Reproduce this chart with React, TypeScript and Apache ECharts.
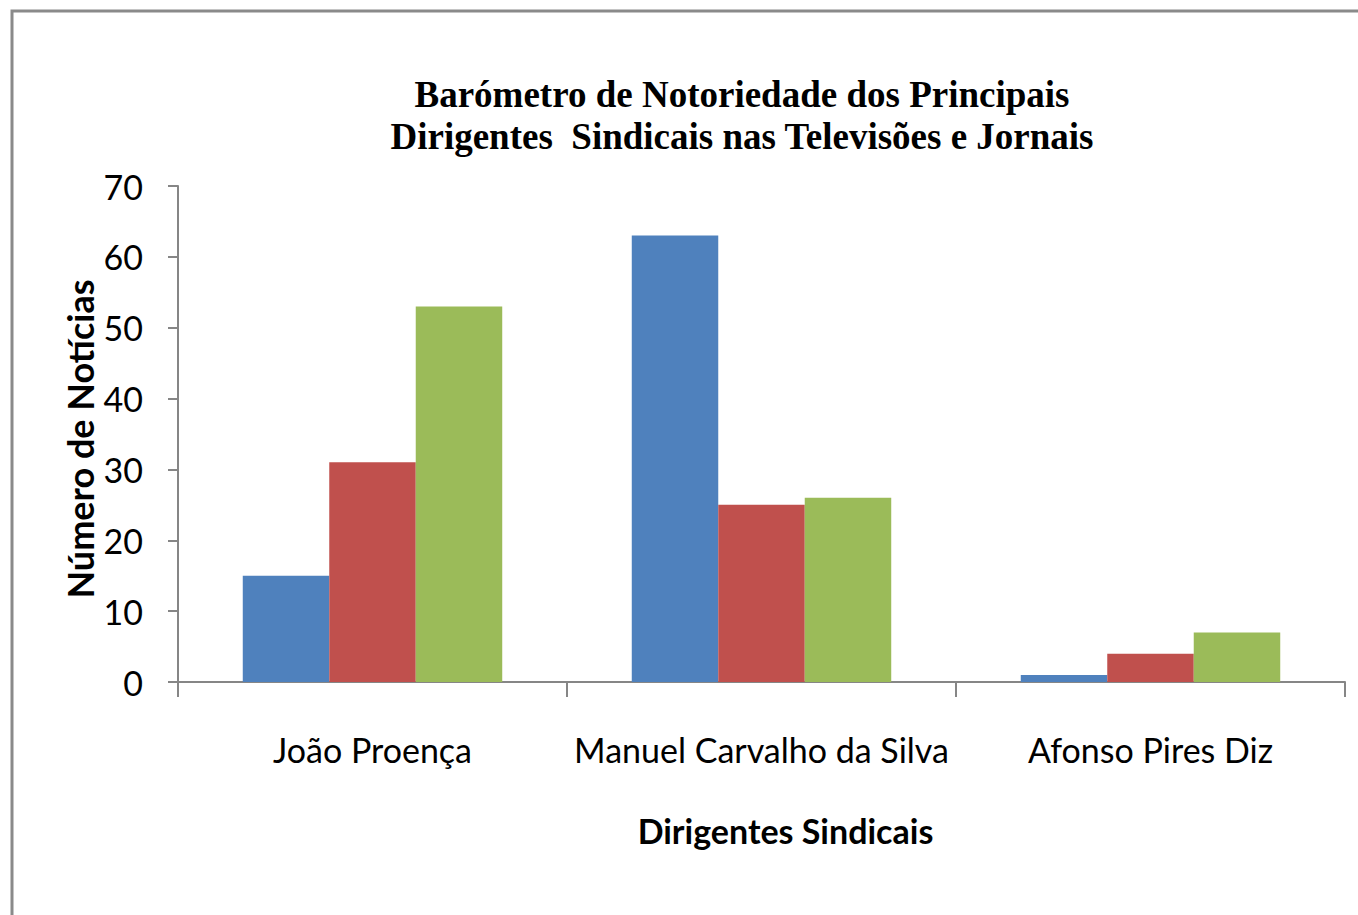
import React, { useEffect, useRef } from "react";
import * as echarts from "echarts";

const categories = ["João Proença", "Manuel Carvalho da Silva", "Afonso Pires Diz"];
const serieA = [15, 63, 1];
const serieB = [31, 25, 4];
const serieC = [53, 26, 7];
const seriesNames = ["Série 1", "Série 2", "Série 3"];
const seriesColors = ["#4F81BD", "#C0504D", "#9BBB59"];
const titleLines = ["Barómetro de Notoriedade dos Principais", "Dirigentes  Sindicais nas Televisões e Jornais"];
const yAxisName = "Número de Notícias";
const xAxisName = "Dirigentes Sindicais";

export default function App() {
  const ref = useRef<HTMLDivElement>(null);
  useEffect(() => {
    if (!ref.current) return;
    const chart = echarts.init(ref.current, undefined, { renderer: "svg" });
    const data = [serieA, serieB, serieC];
    chart.setOption({
      animation: false,
      backgroundColor: "#ffffff",
      title: {
        text: titleLines.join("\n"),
        left: 737,
        top: 68,
        textAlign: "center",
        textStyle: {
          fontFamily: "Liberation Serif",
          fontWeight: "bold",
          fontSize: 37,
          lineHeight: 42,
          color: "#000",
        },
      },
      graphic: [
        {
          type: "rect",
          shape: { x: 12, y: 11, width: 1500, height: 1200 },
          style: { fill: "none", stroke: "#8a8a8a", lineWidth: 3 },
          silent: true,
        },
      ],
      grid: { left: 178, right: 13, top: 186, bottom: 233, containLabel: false },
      xAxis: {
        type: "category",
        data: categories,
        name: xAxisName,
        nameLocation: "middle",
        nameGap: 131,
        nameTextStyle: {
          fontFamily: "Lato",
          fontWeight: "bold",
          fontSize: 34,
          color: "#000",
          padding: [0, 0, 0, 48],
        },
        axisLine: { lineStyle: { color: "#868686", width: 2 } },
        axisTick: { show: true, length: 15, lineStyle: { color: "#868686", width: 2 } },
        axisLabel: { fontFamily: "Lato", fontSize: 34, color: "#000", margin: 35 + 15, interval: 0 },
      },
      yAxis: {
        type: "value",
        min: 0,
        max: 70,
        interval: 10,
        name: yAxisName,
        nameLocation: "middle",
        nameGap: 80,
        nameRotate: 90,
        nameMoveOverlap: false,
        nameTextStyle: {
          fontFamily: "Lato",
          fontWeight: "bold",
          fontSize: 36,
          color: "#000",
          padding: [0, 10, 0, 0],
        },
        splitLine: { show: false },
        axisLine: { show: true, lineStyle: { color: "#868686", width: 2 } },
        axisTick: { show: true, length: 10, lineStyle: { color: "#868686", width: 2 } },
        axisLabel: { fontFamily: "Lato", fontSize: 34, color: "#000", margin: 35 },
      },
      series: data.map((d, i) => ({
        type: "bar",
        name: seriesNames[i],
        data: d,
        barGap: "0%",
        barCategoryGap: "33.3%",
        itemStyle: { color: seriesColors[i] },
      })),
    });
    return () => chart.dispose();
  }, []);
  return (
    <div
      ref={ref}
      style={{ position: "fixed", left: 0, top: 0, width: 1358, height: 915 }}
    />
  );
}
